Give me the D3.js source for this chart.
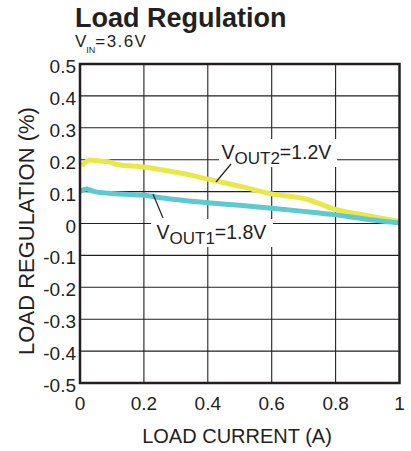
<!DOCTYPE html>
<html>
<head>
<meta charset="utf-8">
<script src="https://cdn.jsdelivr.net/npm/d3@7"></script>
<style>
  html, body { margin: 0; padding: 0; background: #fff; }
  svg { display: block; font-family: "Liberation Sans", Arial, sans-serif; }
</style>
</head>
<body>
<svg id="chart" width="411" height="451"></svg>
<script>
// ---- data ----
const xTicks = [0, 0.2, 0.4, 0.6, 0.8, 1];
const xTickLabels = ["0", "0.2", "0.4", "0.6", "0.8", "1"];
const yTicks = [0.5, 0.4, 0.3, 0.2, 0.1, 0, -0.1, -0.2, -0.3, -0.4, -0.5];
const yTickLabels = ["0.5", "0.4", "0.3", "0.2", "0.1", "0", "-0.1", "-0.2", "-0.3", "-0.4", "-0.5"];

// VOUT2 = 1.2V (yellow)
const vout2Current = [0.005, 0.031, 0.06, 0.088, 0.119, 0.19, 0.26, 0.33, 0.40, 0.50, 0.60, 0.71, 0.80, 0.88, 1.0];
const vout2Reg     = [0.181, 0.199, 0.196, 0.194, 0.184, 0.178, 0.168, 0.155, 0.139, 0.117, 0.093, 0.076, 0.044, 0.028, 0.006];

// VOUT1 = 1.8V (cyan)
const vout1Current = [0.0, 0.02, 0.045, 0.09, 0.19, 0.29, 0.40, 0.50, 0.60, 0.70, 0.80, 0.88, 1.0];
const vout1Reg     = [0.101, 0.108, 0.100, 0.095, 0.089, 0.076, 0.065, 0.057, 0.048, 0.038, 0.027, 0.016, 0.002];

const seriesNames = ["VOUT2=1.2V", "VOUT1=1.8V"];

// ---- layout ----
const svg = d3.select("#chart");
const pLeft = 80, pRight = 399.5, pTop = 64, pBottom = 383;
const x = d3.scaleLinear().domain([0, 1]).range([pLeft, pRight]);
const y = d3.scaleLinear().domain([-0.5, 0.5]).range([pBottom, pTop]);
const ink = "#231f20";

// grid
const grid = svg.append("g");
grid.selectAll("line.v").data(xTicks.slice(1, -1)).enter().append("line")
  .attr("x1", d => x(d)).attr("x2", d => x(d))
  .attr("y1", pTop).attr("y2", pBottom)
  .attr("stroke", ink).attr("stroke-width", 1.1);
grid.selectAll("line.h").data(yTicks.slice(1, -1)).enter().append("line")
  .attr("x1", pLeft).attr("x2", pRight)
  .attr("y1", d => y(d)).attr("y2", d => y(d))
  .attr("stroke", ink).attr("stroke-width", 1.1);

// series lines
const line = d3.line().x(d => x(d[0])).y(d => y(d[1])).curve(d3.curveMonotoneX);
const s2 = vout2Current.map((c, i) => [c, vout2Reg[i]]);
const s1 = vout1Current.map((c, i) => [c, vout1Reg[i]]);
svg.append("path").datum(s2).attr("d", line)
  .attr("fill", "none").attr("stroke", "#e9e84a").attr("stroke-width", 5)
  .attr("stroke-linejoin", "round");
svg.append("path").datum(s1).attr("d", line)
  .attr("fill", "none").attr("stroke", "#5ec9d0").attr("stroke-width", 5)
  .attr("stroke-linejoin", "round");

// frame
svg.append("rect").attr("x", pLeft).attr("y", pTop)
  .attr("width", pRight - pLeft).attr("height", pBottom - pTop)
  .attr("fill", "none").attr("stroke", ink).attr("stroke-width", 2.5);

// tick labels
svg.append("g").selectAll("text").data(yTicks).enter().append("text")
  .attr("x", 76).attr("y", d => y(d) + 9)
  .attr("text-anchor", "end").attr("font-size", 19).attr("fill", ink)
  .text((d, i) => yTickLabels[i]);
svg.append("g").selectAll("text").data(xTicks).enter().append("text")
  .attr("x", d => x(d)).attr("y", 410)
  .attr("text-anchor", "middle").attr("font-size", 19).attr("fill", ink)
  .text((d, i) => xTickLabels[i]);

// axis titles
svg.append("text").attr("x", 237).attr("y", 443)
  .attr("text-anchor", "middle").attr("font-size", 20).attr("fill", ink)
  .text("LOAD CURRENT (A)");
svg.append("text").attr("transform", "translate(34,231) rotate(-90)")
  .attr("text-anchor", "middle").attr("font-size", 22).attr("fill", ink)
  .text("LOAD REGULATION (%)");

// title
svg.append("text").attr("x", 75).attr("y", 27)
  .attr("font-size", 27).attr("font-weight", "bold").attr("fill", ink)
  .text("Load Regulation");
const vin = svg.append("text").attr("x", 75).attr("y", 47)
  .attr("font-size", 17).attr("fill", ink);
vin.append("tspan").text("V");
vin.append("tspan").attr("font-size", 9).attr("dy", 6).text("IN");
vin.append("tspan").attr("dy", -6).attr("letter-spacing", 1.4).text("=3.6V");

// series annotations
function label(parts, bx, by, rect, lead) {
  svg.append("rect").attr("x", rect[0]).attr("y", rect[1])
    .attr("width", rect[2]).attr("height", rect[3]).attr("fill", "#fff");
  svg.append("line").attr("x1", lead[0]).attr("y1", lead[1])
    .attr("x2", lead[2]).attr("y2", lead[3])
    .attr("stroke", ink).attr("stroke-width", 1.2);
  const t = svg.append("text").attr("x", bx).attr("y", by).attr("fill", ink).attr("font-size", 19.5);
  t.append("tspan").text(parts[0]);
  t.append("tspan").attr("font-size", 17).attr("dy", 4.5).text(parts[1]);
  t.append("tspan").attr("dy", -4.5).text(parts[2]);
}
label(["V", "OUT2", "=1.2V"], 221.5, 159, [219, 139, 118, 28], [231, 164, 216, 182]);
label(["V", "OUT1", "=1.8V"], 156.5, 239, [151, 219, 122, 28], [153, 194, 163, 218]);
</script>
</body>
</html>
